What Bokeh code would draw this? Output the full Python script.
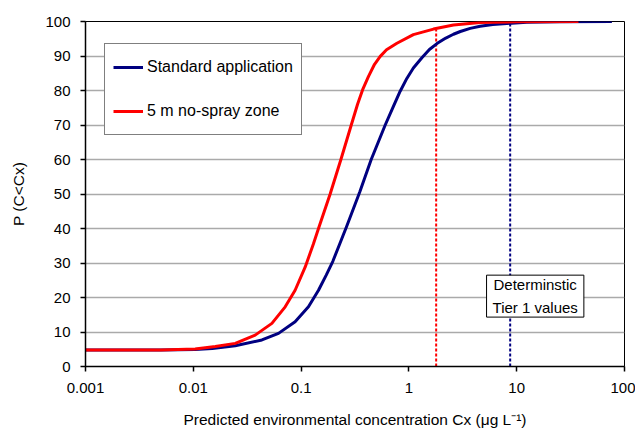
from bokeh.plotting import figure
from bokeh.models import (Legend, LegendItem, Label, FixedTicker,
                          CustomJSTickFormatter, Range1d)
from bokeh.embed import file_html
from bokeh.resources import INLINE

# ---- data ----
x_standard = [0.001, 0.005, 0.0104, 0.015, 0.0245, 0.0433, 0.0617, 0.088,
              0.117, 0.145, 0.171, 0.197, 0.23, 0.266, 0.35, 0.447, 0.603,
              0.72, 0.83, 0.957, 1.1, 1.32, 1.55, 1.82, 2.2, 2.59, 3.0, 3.7,
              4.58, 6.0, 8.1, 12.4, 25, 76.4]
p_standard = [4.8, 4.8, 4.9, 5.2, 6.0, 7.7, 9.6, 13.0,
              17.3, 22.1, 26.5, 30.5, 35.8, 40.8, 50.6, 60, 70,
              75.5, 79.8, 83.5, 86.5, 89.5, 91.9, 93.6, 95.2, 96.3, 97.1, 98.0,
              98.6, 99.1, 99.4, 99.8, 99.9, 100]

x_nospray = [0.001, 0.005, 0.0104, 0.016, 0.0245, 0.0375, 0.0536, 0.0712,
             0.088, 0.109, 0.130, 0.145, 0.186, 0.234, 0.292, 0.334, 0.375,
             0.422, 0.48, 0.542, 0.62, 0.774, 1.10, 1.69, 2.59, 4.58, 10, 37.4]
p_nospray = [4.8, 4.8, 5.1, 5.8, 6.7, 9.1, 12.5, 17.3,
             22.1, 28.8, 35.5, 40, 50, 60, 70, 76, 80.5,
             84.1, 87.6, 89.9, 91.8, 93.7, 96.2, 97.8, 99.0, 99.7, 99.9, 100]

tier1_x = [1.79, 8.7]
tier1_top = [97.6, 99.7]
tier1_colors = ["#FF0000", "#000080"]

x_ticks = [0.001, 0.01, 0.1, 1, 10, 100]
y_ticks = list(range(0, 101, 10))

FONT = "Liberation Sans"

p = figure(width=635, height=430, x_axis_type="log",
           x_range=Range1d(0.001, 100), y_range=Range1d(0, 100),
           output_backend="svg", toolbar_location=None,
           min_border_left=85, min_border_right=11,
           min_border_top=21, min_border_bottom=63)

p.outline_line_color = "black"
p.outline_line_width = 1
p.background_fill_color = "white"
p.border_fill_color = "white"

# grid
p.xgrid.grid_line_color = None
p.ygrid.grid_line_color = "#aaaaaa"
p.ygrid.grid_line_width = 1.5
p.ygrid.ticker = FixedTicker(ticks=y_ticks)

# axes
p.xaxis.ticker = FixedTicker(ticks=x_ticks)
p.xaxis.formatter = CustomJSTickFormatter(
    code="return Number(tick.toPrecision(1)).toString();")
p.yaxis.ticker = FixedTicker(ticks=y_ticks)
for ax in (p.xaxis[0], p.yaxis[0]):
    ax.axis_line_color = "black"
    ax.axis_line_width = 1.5
    ax.major_tick_line_color = "black"
    ax.major_tick_line_width = 1.5
    ax.major_tick_in = 0
    ax.major_tick_out = 5
    ax.minor_tick_line_color = None
    ax.major_label_text_font = FONT
    ax.major_label_text_font_size = "15px"
    ax.major_label_text_color = "black"
    ax.axis_label_text_font = FONT
    ax.axis_label_text_font_size = "15.5px"
    ax.axis_label_text_font_style = "normal"
    ax.axis_label_text_color = "black"

p.xaxis.axis_label = "Predicted environmental concentration Cx (\u03bcg L\u207b\u00b9)"
p.yaxis.axis_label = "P (C<Cx)"
p.xaxis.major_label_standoff = 11
p.xaxis.axis_label_standoff = 15
p.yaxis.major_label_standoff = 10
p.yaxis.axis_label_standoff = 15

# deterministic tier 1 lines
p.segment(x0=tier1_x, y0=[0, 0], x1=tier1_x, y1=tier1_top,
          line_color=tier1_colors, line_width=2, line_dash="3 2")

r_std = p.line(x_standard, p_standard, line_color="#000080", line_width=3,
               line_join="round")
r_ns = p.line(x_nospray, p_nospray, line_color="#FF0000", line_width=3,
              line_join="round")

legend = Legend(items=[LegendItem(label="Standard application", renderers=[r_std]),
                       LegendItem(label="5 m no-spray zone", renderers=[r_ns])],
                location=(19, 231))
legend.label_text_font = FONT
legend.label_text_font_size = "16px"
legend.label_text_color = "black"
legend.glyph_width = 30
legend.glyph_height = 20
legend.label_height = 30
legend.label_standoff = 4
legend.spacing = 14
legend.padding = 8
legend.margin = 0
legend.border_line_color = "black"
legend.border_line_width = 1
legend.background_fill_color = "white"
legend.background_fill_alpha = 1
p.add_layout(legend, "center")

note = Label(x=14.85, y=20.4, text="Determinstic\nTier 1 values",
             text_align="center", text_baseline="middle",
             text_font=FONT, text_font_size="15px", text_color="black",
             text_line_height=1.35,
             border_line_color="black", border_line_width=1,
             background_fill_color="white", background_fill_alpha=1,
             padding=(6, 1))
p.add_layout(note)

open("out.html", "w").write(file_html(p, INLINE))
